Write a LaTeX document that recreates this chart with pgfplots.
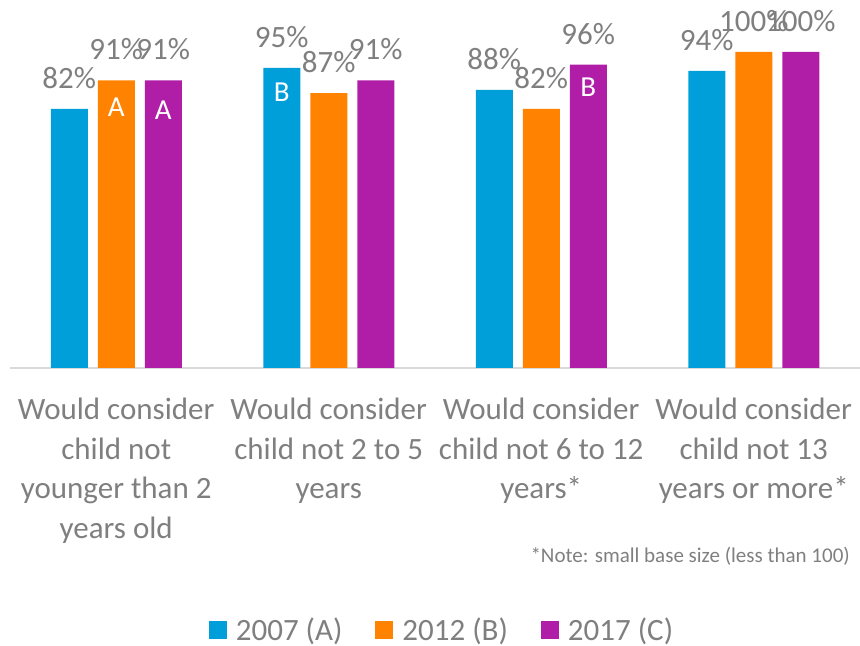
\documentclass[border=0pt]{standalone}
\usepackage{fontspec}
\setmainfont{Carlito}
\usepackage{pgfplots}
\pgfplotsset{compat=1.18}
\definecolor{cblue}{HTML}{009FDA}
\definecolor{corange}{HTML}{FF8200}
\definecolor{cpurple}{HTML}{B01EA8}
\definecolor{tgray}{HTML}{7F7F7F}
\definecolor{lgray}{HTML}{D9D9D9}
\begin{document}
\begin{tikzpicture}
\begin{axis}[
  name=ax,
  scale only axis, width=850pt, height=368pt,
  ybar=10pt, bar width=37pt,
  ymin=0, ymax=116.45, xmin=-0.5, xmax=3.5,
  axis y line=none,
  axis x line=bottom,
  x axis line style={draw=lgray, line width=1.5pt, -},
  xtick={0,1,2,3},
  xtick style={draw=none},
  ytick=\empty,
  xticklabels={{Would consider\\child not\\younger than 2\\years old},
               {Would consider\\child not 2 to 5\\years},
               {Would consider\\child not 6 to 12\\years*},
               {Would consider\\child not 13\\years or more*}},
  xticklabel style={align=center, inner sep=0pt, anchor=north, yshift=-28pt,
    font=\fontsize{31}{39.5}\selectfont, text=tgray},
  clip=false,
  /pgf/number format/assume math mode=true,
  nodes near coords={\pgfmathprintnumber{\pgfplotspointmeta}\%},
  every node near coord/.append style={font=\fontsize{31}{37}\selectfont, text=tgray, anchor=south, inner sep=0pt, yshift=20pt},
  legend style={at={(0.5,-0.719)}, anchor=center, xshift=7pt, yshift=3pt, legend columns=3, draw=none,
    font=\fontsize{31}{36}\selectfont, text=tgray,
    /tikz/every odd column/.append style={column sep=7pt},
    /tikz/every even column/.append style={column sep=31pt}},
  legend image code/.code={\fill[#1] (0pt,-9pt) rectangle (18pt,9pt);},
]
\addplot[fill=cblue, draw=none] coordinates {(0,82) (1,95) (2,88) (3,94)};
\addplot[fill=corange, draw=none] coordinates {(0,91) (1,87) (2,82) (3,100)};
\addplot[fill=cpurple, draw=none] coordinates {(0,91) (1,91) (2,96) (3,100)};
\legend{2007 (A), 2012 (B), 2017 (C)}
\node[anchor=north, inner sep=0pt, text=white, font=\fontsize{29}{34}\selectfont, yshift=-17pt] at (axis cs:0,91) {A};
\node[anchor=north, inner sep=0pt, text=white, font=\fontsize{29}{34}\selectfont, yshift=-20pt] at (axis cs:0.2212,91) {A};
\node[anchor=north, inner sep=0pt, text=white, font=\fontsize{29}{34}\selectfont, yshift=-15pt] at (axis cs:0.7788,95) {B};
\node[anchor=north, inner sep=0pt, text=white, font=\fontsize{29}{34}\selectfont, yshift=-13pt] at (axis cs:2.2212,96) {B};
\node[anchor=base east, inner sep=0pt, text=tgray, font=\fontsize{21}{25}\selectfont, xshift=-10pt, yshift=-195pt] at (rel axis cs:1,0) {*Note: small base size (less than 100)};
\end{axis}
\pgfresetboundingbox
\path[use as bounding box] ([xshift=-10pt,yshift=-278pt]ax.south west) rectangle (ax.north east);
\end{tikzpicture}
\end{document}
